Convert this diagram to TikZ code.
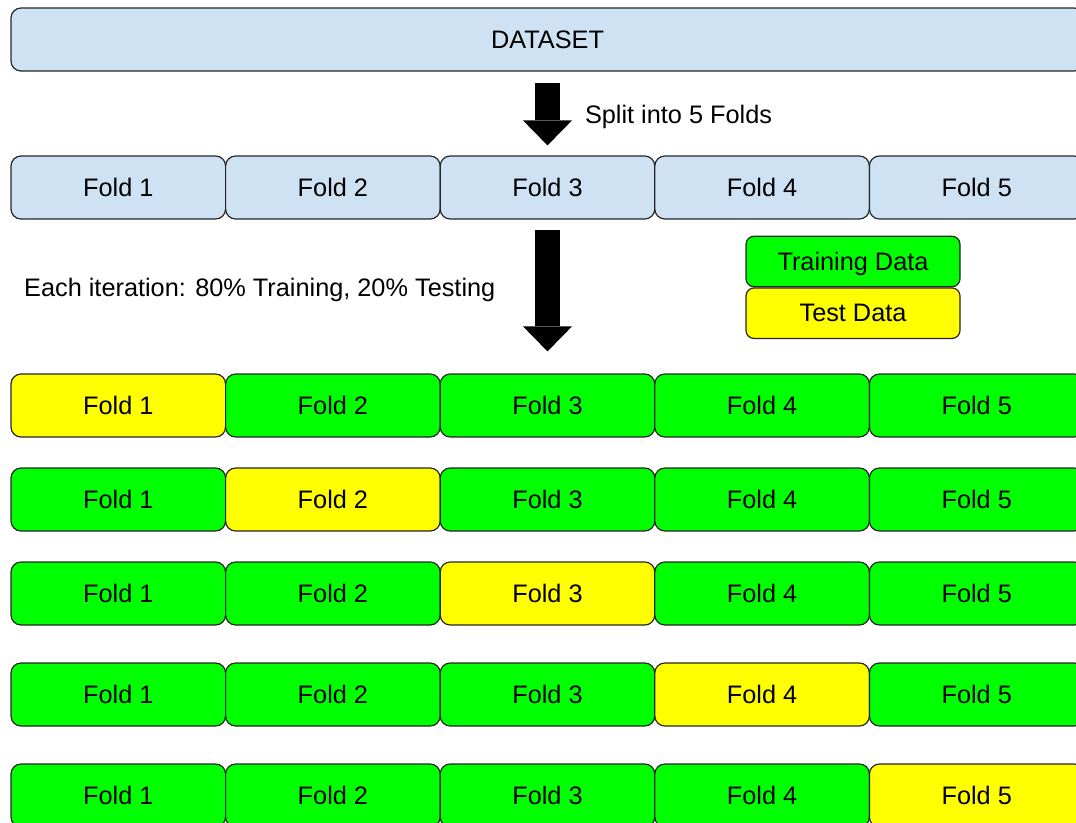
\documentclass[tikz,border=0pt]{standalone}
\usepackage{fontspec}
\setmainfont{Liberation Sans}
\usetikzlibrary{arrows.meta,positioning}
\definecolor{foldblue}{HTML}{CFE2F3}
\definecolor{traincol}{HTML}{00FF00}
\definecolor{testcol}{HTML}{FFFF00}

\begin{document}
\begin{tikzpicture}[x=1pt, y=-1pt,
    font=\fontsize{25.3}{30}\selectfont,
    box/.style={draw=black!85, line width=1.2pt, rounded corners=10pt, inner sep=0pt, text depth=0pt},
    fold/.style={box, minimum width=214.6pt, minimum height=63pt},
    legendbox/.style={box, rounded corners=8pt, minimum width=214pt, minimum height=50.5pt},
    bigarrow/.style={line width=25pt, -{Triangle[width=49pt, length=25pt, line width=0pt]}}]
  \useasboundingbox (0,0) rectangle (1076,822);

  \node [box, fill=foldblue, minimum width=1073pt, minimum height=63pt] (ds) at (547.5,39.5) {DATASET};

  \foreach \c in {1,...,5}
    \node [fold, fill=foldblue] (f\c) at ({11+214.6*(\c-0.5)},187.5) {Fold \c};

  \draw [bigarrow] ([yshift=-11pt]f3.north |- ds.south) -- ([yshift=10pt]f3.north)
    node [midway, right=25pt, inner sep=0pt, text depth=0pt] (split) {Split into 5 Folds};

  \node [anchor=west, inner sep=0pt] (iter) at (24,290) {Each iteration: 80\% Training, 20\% Testing};

  \node [legendbox, fill=traincol] (train) at (853,261.5) {Training Data};
  \node [legendbox, fill=testcol, below=0pt of train] (test) {Test Data};

  \foreach \r/\y in {1/405.5, 2/499.5, 3/593.5, 4/694.5, 5/795.5}
    \foreach \c in {1,...,5} {
      \ifnum\c=\r \def\fc{testcol}\else \def\fc{traincol}\fi
      \node [fold, fill=\fc] (t\r-\c) at ({11+214.6*(\c-0.5)},\y) {Fold \c};
    }

  \draw [bigarrow] ([yshift=-10pt]f3.south) -- ([yshift=22pt]t1-3.north);
\end{tikzpicture}
\end{document}
